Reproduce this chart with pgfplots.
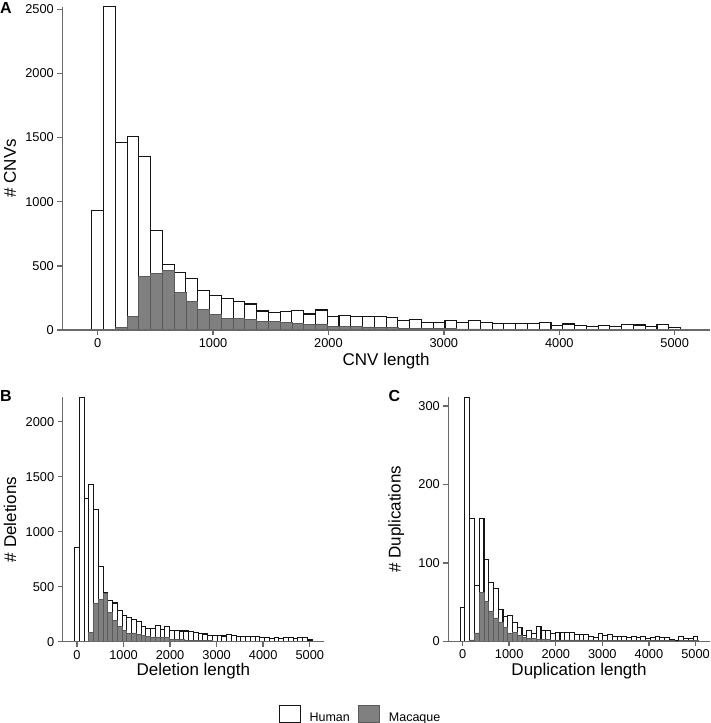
\documentclass[border=0pt]{standalone}
\usepackage{fontspec}
\setmainfont{Liberation Sans}
\usepackage{pgfplots}
\usepackage{pgfplotstable}
\pgfplotsset{compat=1.18}
\definecolor{axgray}{RGB}{105,105,105}
\definecolor{macfill}{RGB}{128,128,128}
\definecolor{macedge}{RGB}{90,90,90}
\definecolor{humedge}{RGB}{20,20,20}

% CNV (all)
\pgfplotstableread{
x h m
0.00 928 0
102.04 2520 0
204.08 1458 18
306.12 1505 104
408.16 1349 418
510.20 777 444
612.24 512 462
714.29 450 296
816.33 403 226
918.37 311 161
1020.41 270 122
1122.45 247 90
1224.49 221 92
1326.53 203 85
1428.57 148 68
1530.61 137 66
1632.65 146 57
1734.69 153 50
1836.73 125 43
1938.78 156 47
2040.82 107 26
2142.86 116 27
2244.90 106 27
2346.94 106 24
2448.98 108 22
2551.02 94 18
2653.06 72 15
2755.10 82 13
2857.14 56 11
2959.18 61 10
3061.22 72 9
3163.27 58 8
3265.31 72 8
3367.35 61 7
3469.39 53 6
3571.43 53 6
3673.47 48 5
3775.51 48 5
3877.55 56 5
3979.59 34 4
4081.63 47 4
4183.67 38 4
4285.71 25 3
4387.76 38 3
4489.80 26 3
4591.84 42 3
4693.88 39 2
4795.92 30 2
4897.96 42 2
5000.00 17 1
}\tabA

% Deletions
\pgfplotstableread{
x h m
0.00 858 0
102.04 2221 0
204.08 1302 5
306.12 1428 88
408.16 1202 350
510.20 686 383
612.24 444 438
714.29 376 266
816.33 352 197
918.37 280 137
1020.41 238 106
1122.45 220 76
1224.49 200 80
1326.53 186 68
1428.57 137 56
1530.61 124 50
1632.65 124 44
1734.69 144 44
1836.73 108 36
1938.78 138 38
2040.82 102 20
2142.86 100 18
2244.90 97 17
2346.94 97 15
2448.98 94 14
2551.02 82 12
2653.06 72 10
2755.10 70 9
2857.14 56 8
2959.18 60 7
3061.22 57 6
3163.27 52 6
3265.31 62 5
3367.35 54 5
3469.39 49 4
3571.43 51 4
3673.47 45 4
3775.51 47 3
3877.55 51 3
3979.59 36 3
4081.63 40 3
4183.67 33 2
4285.71 39 2
4387.76 28 2
4489.80 38 2
4591.84 36 2
4693.88 33 1
4795.92 35 1
4897.96 35 1
5000.00 15 1
}\tabB

% Duplications
\pgfplotstableread{
x h m
0.00 43 0
102.04 311 0
204.08 157 2
306.12 71 11
408.16 157 63
510.20 105 51
612.24 75 39
714.29 67 30
816.33 41 25
918.37 32 18
1020.41 33 10
1122.45 24 12
1224.49 18 8
1326.53 8 5
1428.57 14 4
1530.61 10 4
1632.65 19 3
1734.69 14 3
1836.73 14 3
1938.78 10 2
2040.82 11 2
2142.86 12 2
2244.90 12 2
2346.94 12 2
2448.98 9 2
2551.02 9 2
2653.06 9 2
2755.10 6 2
2857.14 5 1
2959.18 10 1
3061.22 8 1
3163.27 9 1
3265.31 6 1
3367.35 6 1
3469.39 6 1
3571.43 5 1
3673.47 6 1
3775.51 5 1
3877.55 6 1
3979.59 4 1
4081.63 5 1
4183.67 6 1
4285.71 5 1
4387.76 5 1
4489.80 3 1
4591.84 1 0
4693.88 6 1
4795.92 4 1
4897.96 4 1
5000.00 6 1
}\tabC

\pgfplotsset{
 histax/.style={
  scale only axis, anchor=south west,
  xmin=-306, xmax=5306, ymin=0,
  axis x line*=bottom, axis y line*=left,
  axis line style={draw=axgray, line width=1.4bp},
  tick style={draw=axgray, line width=1.4bp},
  tick align=outside, major tick length=5bp,
  xtick={0,1000,2000,3000,4000,5000},
  minor tick num=0,
  /pgf/number format/1000 sep={},
  /pgf/number format/assume math mode=true,
  tick label style={font=\fontsize{12.8bp}{15bp}\selectfont, text=black},
  every axis x label/.style={anchor=base, font=\fontsize{17bp}{20bp}\selectfont},
  every axis y label/.style={rotate=90, anchor=base, font=\fontsize{17bp}{20bp}\selectfont},
  clip=false, axis on top,
 },
 hum/.style={ybar, bar width=102.04, bar shift=0pt, fill=white, draw=humedge, line width=1.1bp},
 mac/.style={ybar, bar width=102.04, bar shift=0pt, fill=macfill, draw=macedge, line width=0.7bp},
}

\begin{document}
\begin{tikzpicture}
\useasboundingbox (0,0) rectangle (711bp,723bp);

% Panel A
\begin{axis}[histax,
  at={(62.3bp,393bp)}, width=647.7bp, height=323.3bp,
  ymax=2520, ytick={0,500,1000,1500,2000,2500},
  xlabel={CNV length}, ylabel={\# CNVs},
  xlabel style={at={(axis description cs:0.5,-0.1083)}},
  ylabel style={at={(axis description cs:-0.0715,0.5)}},
]
\addplot[hum] table[x=x,y=h]{\tabA};
\addplot[mac] table[x=x,y=m]{\tabA};
\end{axis}

% Panel B
\begin{axis}[histax,
  at={(62.7bp,81.3bp)}, width=261.3bp, height=244.4bp,
  ymax=2221, ytick={0,500,1000,1500,2000},
  xlabel={Deletion length}, ylabel={\# Deletions},
  xlabel style={at={(axis description cs:0.5,-0.1363)}},
  ylabel style={at={(axis description cs:-0.1787,0.5)}},
  legend style={at={(axis description cs:0.8251,-0.2967)}, anchor=west,
    draw=none, fill=none, inner sep=0pt, legend columns=2,
    font=\fontsize{12.5bp}{15bp}\selectfont,
    nodes={inner sep=0pt},
    /tikz/every odd column/.append style={column sep=9bp},
    /tikz/every even column/.append style={column sep=8.3bp}},
  legend cell align=left,
  legend image code/.code={\draw[#1] (0bp,-4bp) rectangle (21bp,12.3bp);},
]
\addplot[hum] table[x=x,y=h]{\tabB};
\addlegendentry{Human}
\addplot[mac] table[x=x,y=m]{\tabB};
\addlegendentry{Macaque}
\end{axis}

% Panel C
\begin{axis}[histax,
  at={(448.3bp,81.5bp)}, width=261.5bp, height=244.2bp,
  ymax=311, ytick={0,100,200,300},
  xlabel={Duplication length}, ylabel={\# Duplications},
  xlabel style={at={(axis description cs:0.5,-0.1372)}},
  ylabel style={at={(axis description cs:-0.1828,0.5)}},
]
\addplot[hum] table[x=x,y=h]{\tabC};
\addplot[mac] table[x=x,y=m]{\tabC};
\end{axis}

\node[anchor=base west, inner sep=0pt, font=\fontsize{16bp}{19bp}\selectfont\bfseries] at (0bp,709.7bp) {A};
\node[anchor=base west, inner sep=0pt, font=\fontsize{16bp}{19bp}\selectfont\bfseries] at (0bp,321.3bp) {B};
\node[anchor=base west, inner sep=0pt, font=\fontsize{16bp}{19bp}\selectfont\bfseries] at (388.3bp,321.3bp) {C};
\end{tikzpicture}
\end{document}
